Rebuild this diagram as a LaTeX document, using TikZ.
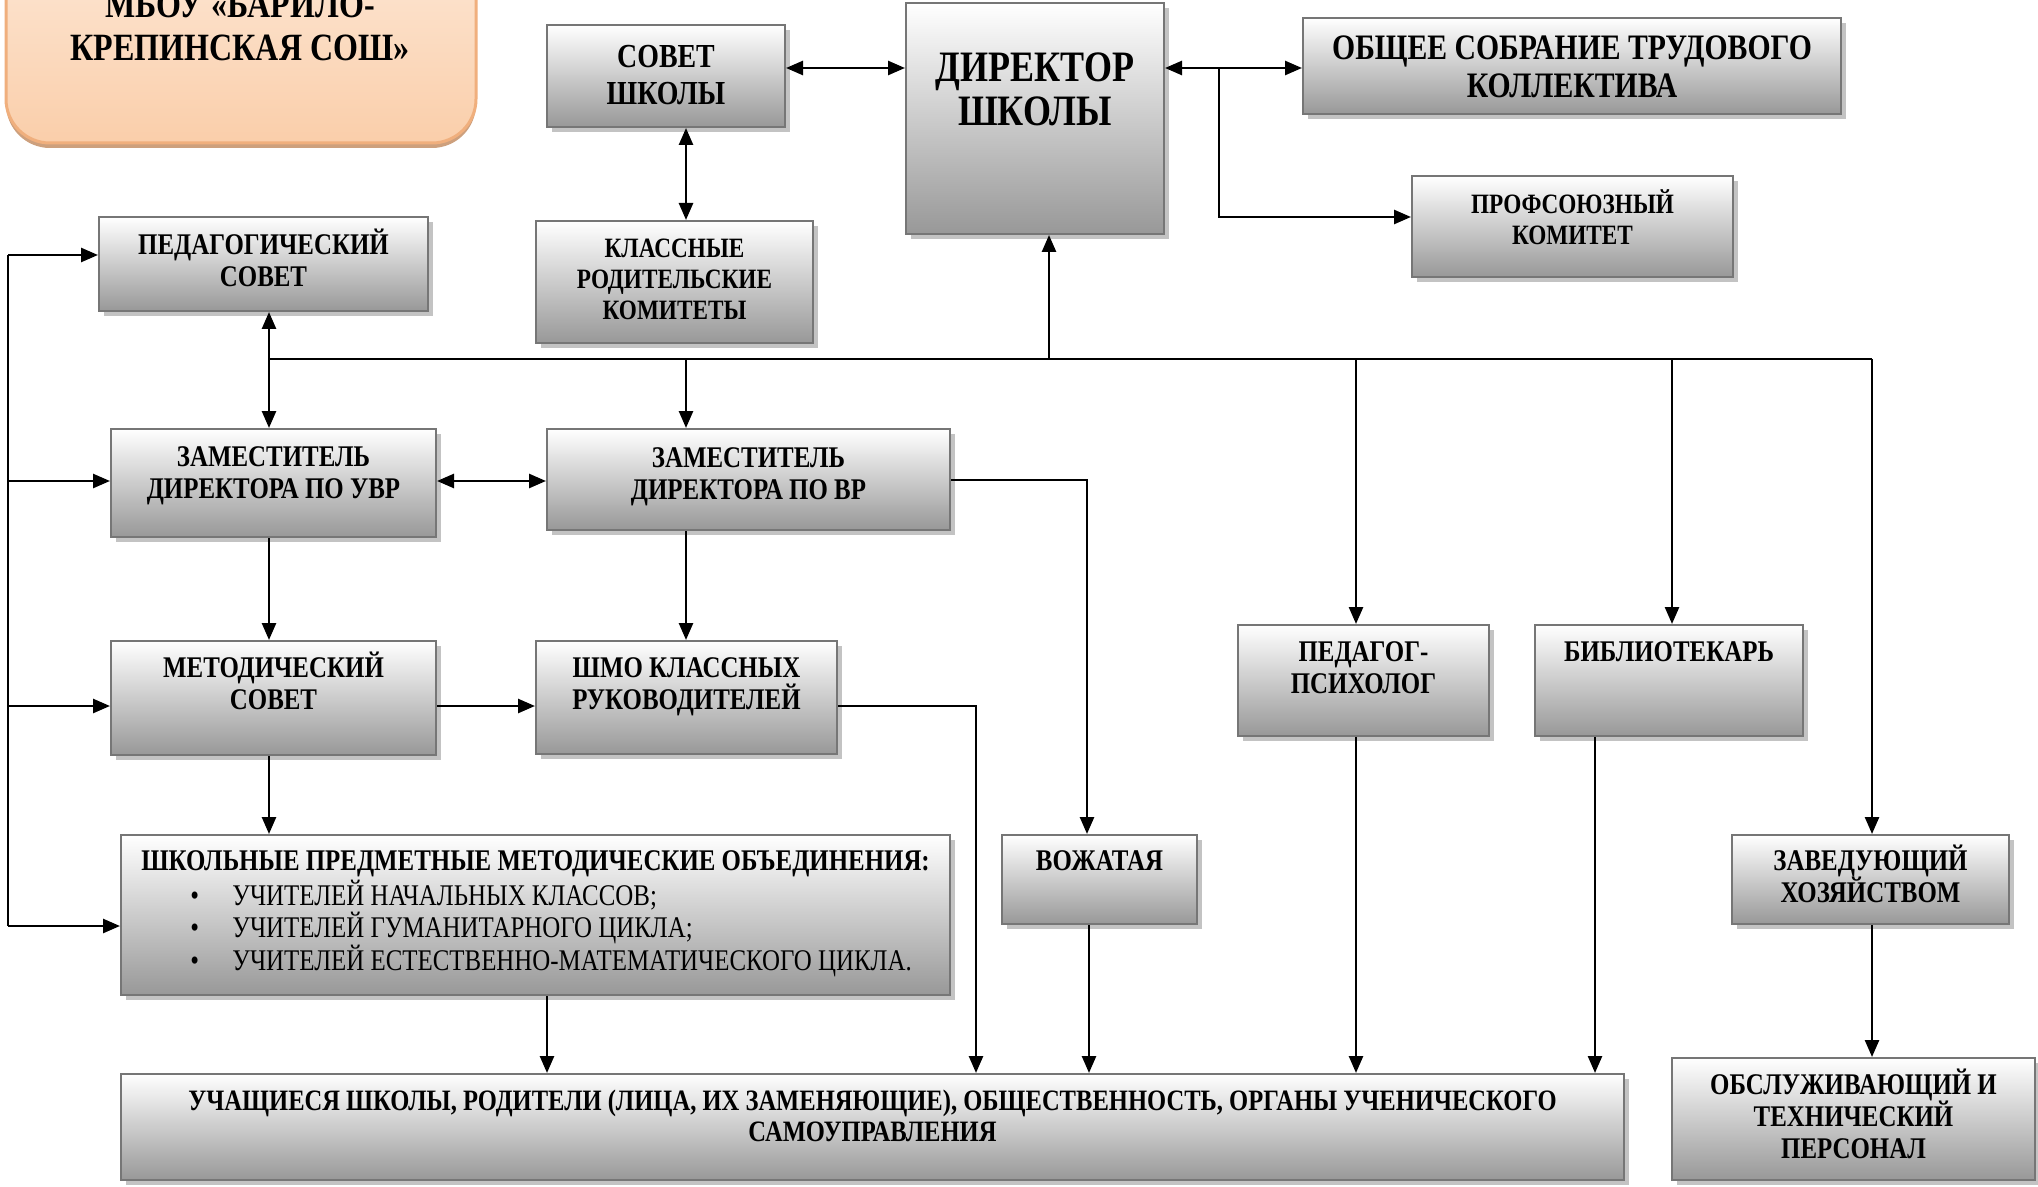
\documentclass[tikz,border=0pt]{standalone}
\usepackage{fontspec}
\setmainfont{Liberation Serif}[FakeStretch=0.83]
\usetikzlibrary{arrows.meta,shadows,fit}
\definecolor{boxedge}{RGB}{118,118,118}
\definecolor{boxbot}{RGB}{152,152,152}
\definecolor{shadowc}{RGB}{195,195,195}
\definecolor{ttop}{RGB}{253,234,218}
\definecolor{tbot}{RGB}{250,206,170}
\definecolor{tedge}{RGB}{240,175,125}
\definecolor{tshadow}{RGB}{205,160,125}
\newcommand\orgbox[5]{%
  \path (#2,#3) coordinate (#1-a) (#4,#5) coordinate (#1-b);
  \node[obox, fit=(#1-a)(#1-b)] (#1) {};}
\newcommand\orgtext[4]{%
  \pgfmathsetmacro\oys{20-#2/2}%
  \node[txt, #3, anchor=north] (#1-t) at ([yshift=\oys pt]#1.north) {\rule{0pt}{20pt}#4};}
\begin{document}
\begin{tikzpicture}[x=0.5pt,y=-0.5pt,
  obox/.style={draw=boxedge, line width=1pt, top color=white, bottom color=boxbot, inner sep=0pt,
    drop shadow={fill=shadowc, opacity=1, shadow xshift=2.5pt, shadow yshift=-2.5pt}},
  tbox/.style={draw=tedge, line width=1.5pt, rounded corners=22pt, top color=ttop, bottom color=tbot, inner sep=0pt,
    drop shadow={fill=tshadow, opacity=1, shadow xshift=0pt, shadow yshift=-2.5pt}},
  txt/.style={inner sep=0pt, align=center, font=\bfseries\fontsize{15}{16}\selectfont},
  small/.style={font=\bfseries\fontsize{14}{15.5}\selectfont},
  ln/.style={line width=1.3pt},
  arr/.style={ln, -{Triangle[length=8.5pt,width=7pt]}},
  darr/.style={ln, {Triangle[length=8.5pt,width=7pt]}-{Triangle[length=8.5pt,width=7pt]}}]
\useasboundingbox (0,0) rectangle (2038,1187);
\fill[white] (0,0) rectangle (2038,1187);
\clip (0,0) rectangle (2038,1187);
% title
\path (6,-80) coordinate (ti-a) (476,143) coordinate (ti-b);
\node[tbox, fit=(ti-a)(ti-b)] (title) {};
\node[txt, font=\bfseries\fontsize{19.3}{21.5}\selectfont, anchor=north] (title-t) at (240,-23) {\rule{0pt}{20pt}МБОУ «БАРИЛО-\\КРЕПИНСКАЯ СОШ»};
% boxes
\orgbox{sovet}{547}{25}{785}{127}
\orgtext{sovet}{43}{font=\bfseries\fontsize{16.8}{18.5}\selectfont}{СОВЕТ\\ШКОЛЫ}
\orgbox{director}{906}{3}{1164}{234}
\orgtext{director}{79}{font=\bfseries\fontsize{21.7}{22}\selectfont}{ДИРЕКТОР\\ШКОЛЫ}
\orgbox{obshee}{1303}{18}{1841}{114}
\orgtext{obshee}{42}{font=\bfseries\fontsize{17.9}{19}\selectfont}{ОБЩЕЕ СОБРАНИЕ ТРУДОВОГО\\КОЛЛЕКТИВА}
\orgbox{prof}{1412}{176}{1733}{277}
\orgtext{prof}{38}{small}{ПРОФСОЮЗНЫЙ\\КОМИТЕТ}
\orgbox{pedsovet}{99}{217}{428}{311}
\orgtext{pedsovet}{38}{}{ПЕДАГОГИЧЕСКИЙ\\СОВЕТ}
\orgbox{klass}{536}{221}{813}{343}
\orgtext{klass}{37}{small}{КЛАССНЫЕ\\РОДИТЕЛЬСКИЕ\\КОМИТЕТЫ}
\orgbox{zamuvr}{111}{429}{436}{537}
\orgtext{zamuvr}{38}{}{ЗАМЕСТИТЕЛЬ\\ДИРЕКТОРА ПО УВР}
\orgbox{zamvr}{547}{429}{950}{530}
\orgtext{zamvr}{39}{}{ЗАМЕСТИТЕЛЬ\\ДИРЕКТОРА ПО ВР}
\orgbox{metod}{111}{641}{436}{755}
\orgtext{metod}{37}{}{МЕТОДИЧЕСКИЙ\\СОВЕТ}
\orgbox{shmo}{536}{641}{837}{754}
\orgtext{shmo}{37}{}{ШМО КЛАССНЫХ\\РУКОВОДИТЕЛЕЙ}
\orgbox{psych}{1238}{625}{1489}{736}
\orgtext{psych}{37}{}{ПЕДАГОГ-\\ПСИХОЛОГ}
\orgbox{bibl}{1535}{625}{1803}{736}
\orgtext{bibl}{37}{}{БИБЛИОТЕКАРЬ}
\orgbox{shpmo}{121}{835}{950}{995}
\orgtext{shpmo}{36}{}{ШКОЛЬНЫЕ ПРЕДМЕТНЫЕ МЕТОДИЧЕСКИЕ ОБЪЕДИНЕНИЯ:}
\node[inner sep=0pt, align=left, anchor=north west, font=\fontsize{15}{16.25}\selectfont] (shpmo-l) at (190,865)
  {\rule{0pt}{20pt}\makebox[21pt][l]{•}УЧИТЕЛЕЙ НАЧАЛЬНЫХ КЛАССОВ;\\
   \makebox[21pt][l]{•}УЧИТЕЛЕЙ ГУМАНИТАРНОГО ЦИКЛА;\\
   \makebox[21pt][l]{•}УЧИТЕЛЕЙ ЕСТЕСТВЕННО-МАТЕМАТИЧЕСКОГО ЦИКЛА.};
\orgbox{vozh}{1002}{835}{1197}{924}
\orgtext{vozh}{36}{}{ВОЖАТАЯ}
\orgbox{zavhoz}{1732}{835}{2009}{924}
\orgtext{zavhoz}{36}{}{ЗАВЕДУЮЩИЙ\\ХОЗЯЙСТВОМ}
\orgbox{uch}{121}{1074}{1624}{1180}
\orgtext{uch}{37}{font=\bfseries\fontsize{14.8}{15.5}\selectfont}{УЧАЩИЕСЯ ШКОЛЫ, РОДИТЕЛИ (ЛИЦА, ИХ ЗАМЕНЯЮЩИЕ), ОБЩЕСТВЕННОСТЬ, ОРГАНЫ УЧЕНИЧЕСКОГО\\САМОУПРАВЛЕНИЯ}
\orgbox{obsl}{1672}{1058}{2035}{1180}
\orgtext{obsl}{37}{}{ОБСЛУЖИВАЮЩИЙ И\\ТЕХНИЧЕСКИЙ\\ПЕРСОНАЛ}
% connectors
\coordinate (busL) at (269,359);
\coordinate (busR) at (1872,359);
\coordinate (busD) at (1049,359);
\coordinate (busV) at (686,359);
\coordinate (busP) at (1356,359);
\coordinate (busB) at (1672,359);
\draw[ln] (busL) -- (busR);
\draw[arr] (busL) -- (pedsovet.south -| busL);
\draw[arr] (busL) -- (zamuvr.north -| busL);
\draw[arr] (busD) -- (director.south -| busD);
\draw[arr] (busV) -- (zamvr.north -| busV);
\draw[arr] (busP) -- (psych.north -| busP);
\draw[arr] (busB) -- (bibl.north -| busB);
\draw[arr] (busR) -- (zavhoz.north -| busR);
\coordinate (yt) at (0,68);
\draw[darr] (sovet.east |- yt) -- (director.west |- yt);
\draw[darr] (director.east |- yt) -- (obshee.west |- yt);
\coordinate (j1) at (1219,68);
\coordinate (j2) at (1219,217);
\draw[arr] (j1) -- (j2) -- (prof.west |- j2);
\draw[darr] (sovet.south -| busV) -- (klass.north -| busV);
\coordinate (yz) at (0,481);
\draw[darr] (zamuvr.east |- yz) -- (zamvr.west |- yz);
\draw[arr] (zamuvr.south -| busL) -- (metod.north -| busL);
\draw[arr] (zamvr.south -| busV) -- (shmo.north -| busV);
\coordinate (vz) at (1087,480);
\draw[arr] (zamvr.east |- vz) -- (vz) -- (vozh.north -| vz);
\coordinate (ym) at (0,706);
\draw[arr] (metod.east |- ym) -- (shmo.west |- ym);
\draw[arr] (metod.south -| busL) -- (shpmo.north -| busL);
\coordinate (sz) at (976,706);
\draw[arr] (shmo.east |- sz) -- (sz) -- (uch.north -| sz);
\coordinate (xs) at (547,0);
\draw[arr] (shpmo.south -| xs) -- (uch.north -| xs);
\coordinate (xv) at (1089,0);
\draw[arr] (vozh.south -| xv) -- (uch.north -| xv);
\draw[arr] (psych.south -| busP) -- (uch.north -| busP);
\coordinate (xb) at (1595,0);
\draw[arr] (bibl.south -| xb) -- (uch.north -| xb);
\draw[arr] (zavhoz.south -| busR) -- (obsl.north -| busR);
\coordinate (lbT) at (8,255);
\coordinate (lbB) at (8,926);
\draw[ln] (lbT) -- (lbB);
\draw[arr] (lbT) -- (pedsovet.west |- lbT);
\draw[arr] (lbT |- yz) -- (zamuvr.west |- yz);
\draw[arr] (lbT |- ym) -- (metod.west |- ym);
\draw[arr] (lbB) -- (shpmo.west |- lbB);
\end{tikzpicture}
\end{document}
